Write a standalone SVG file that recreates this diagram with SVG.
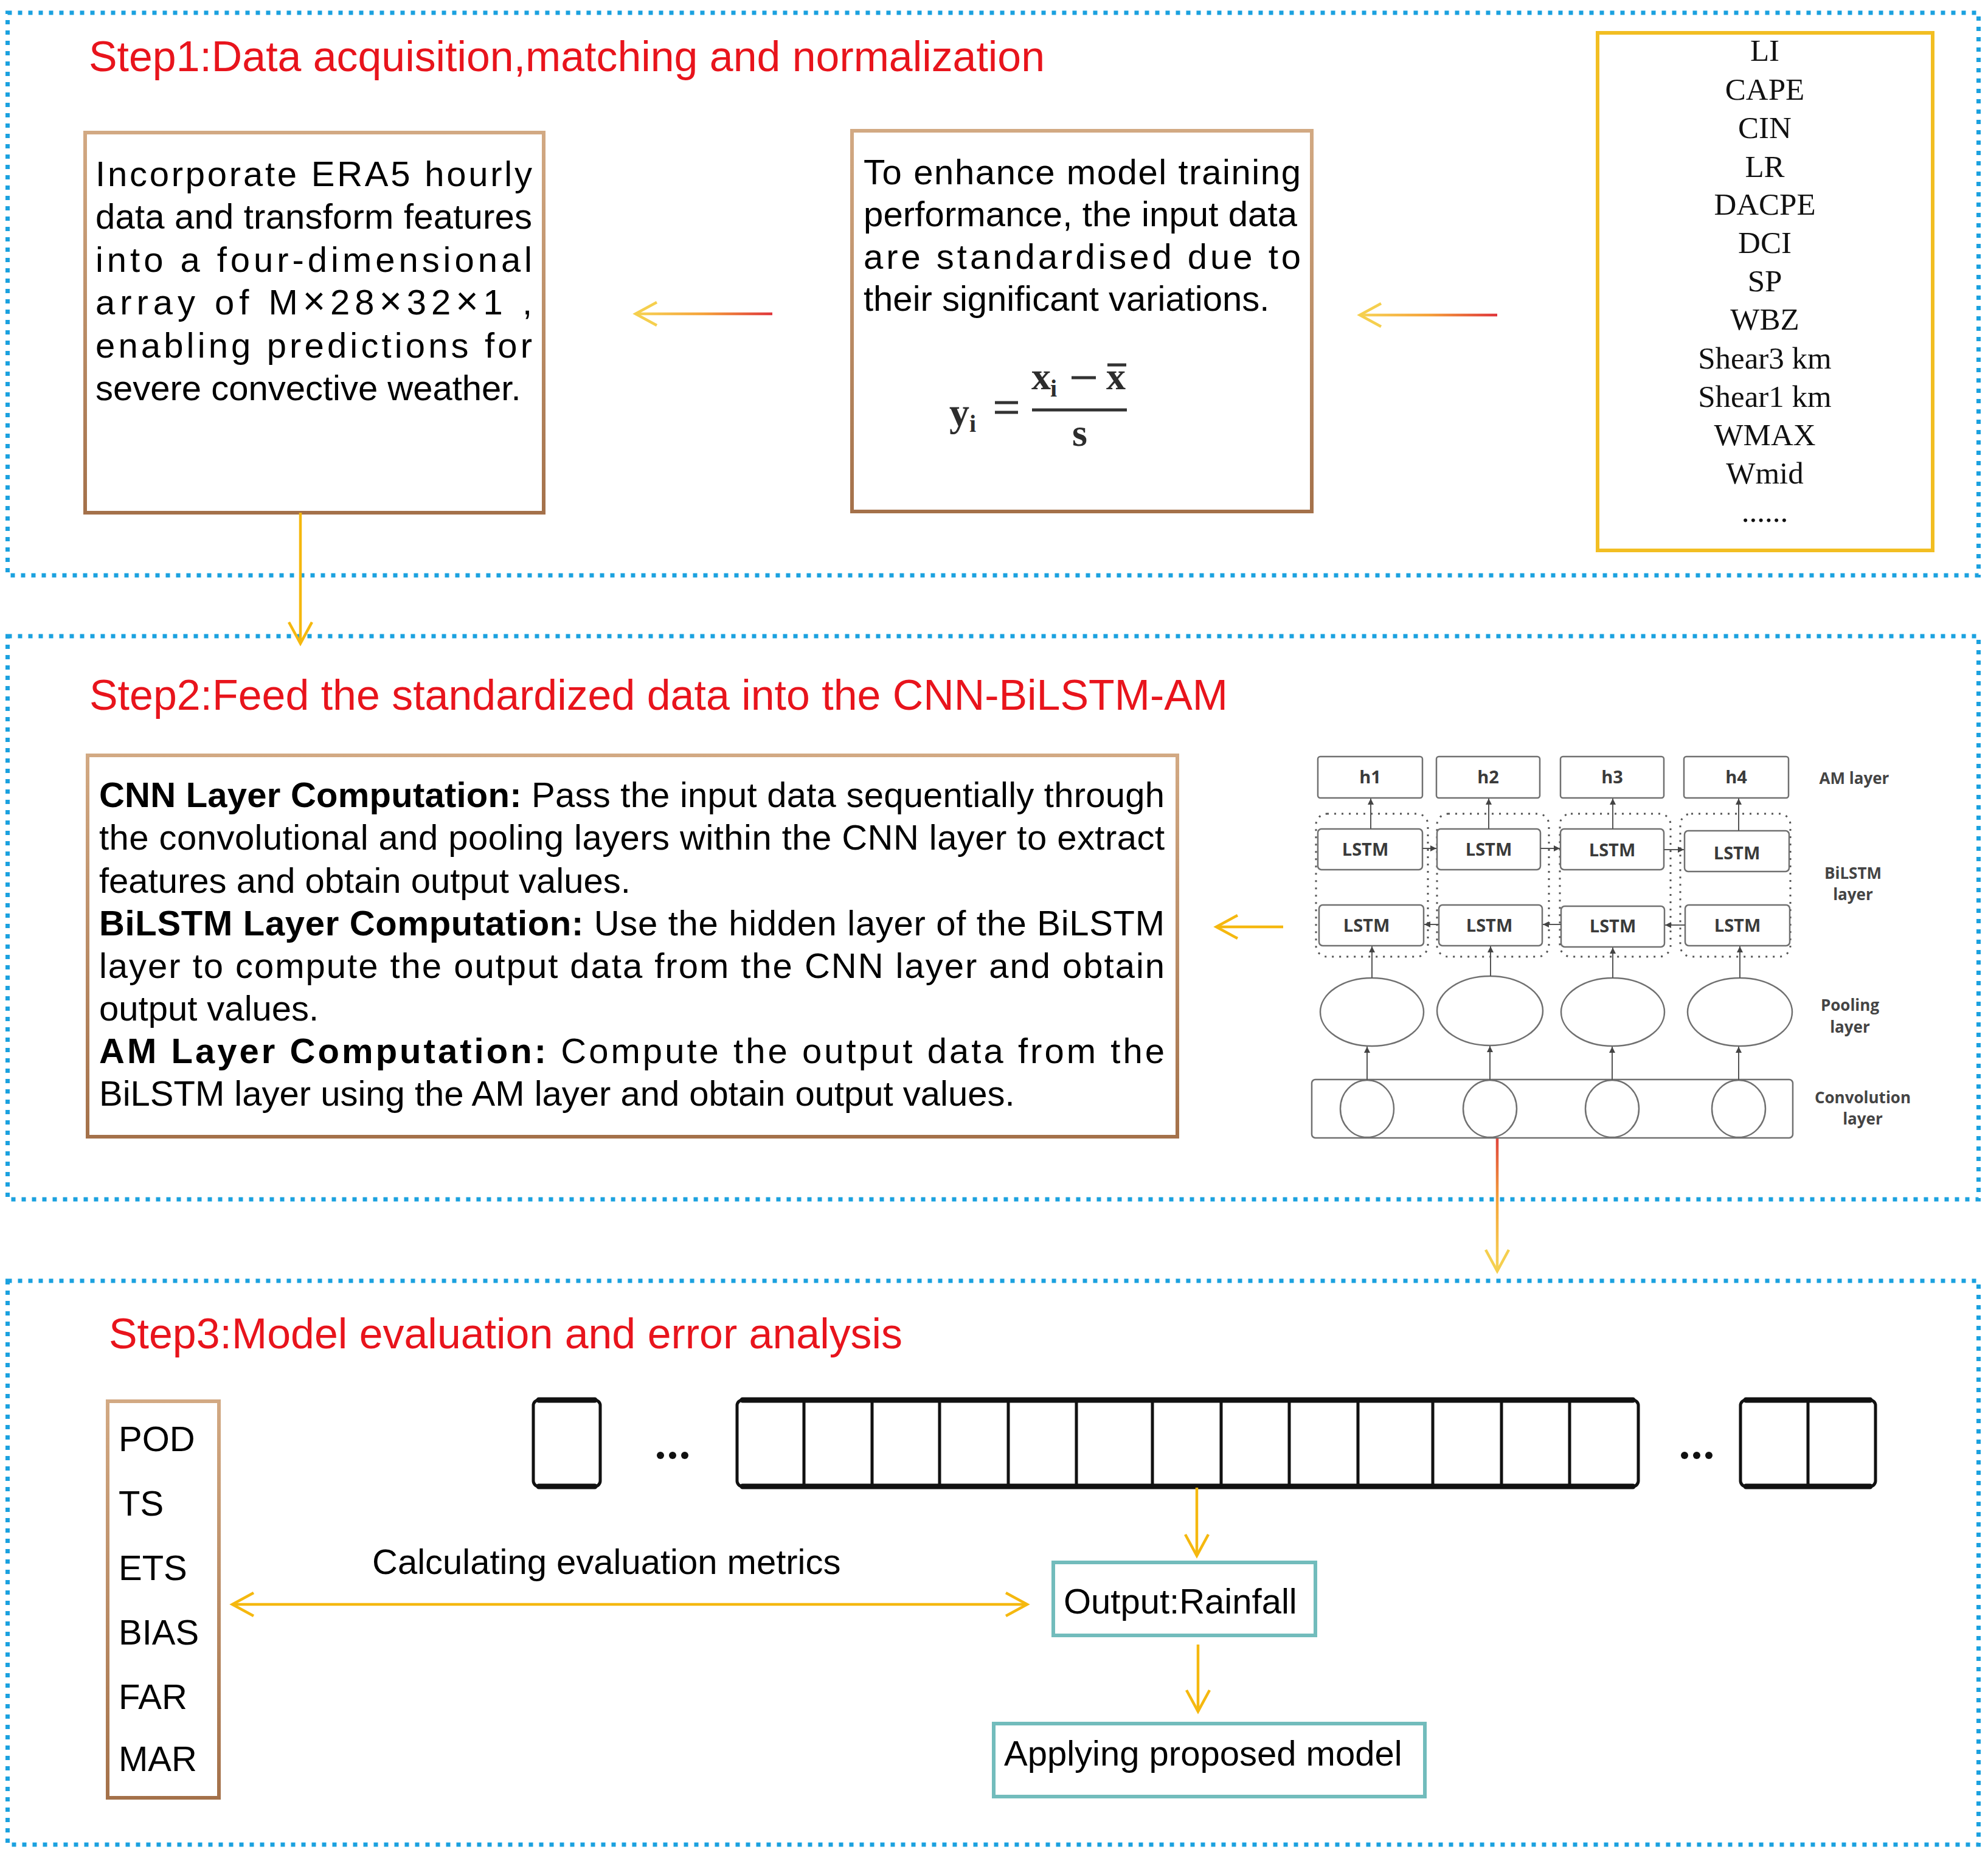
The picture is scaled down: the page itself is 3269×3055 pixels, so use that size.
<svg xmlns="http://www.w3.org/2000/svg" width="3269" height="3055" viewBox="0 0 3269 3055">
<defs>
<style>
.frame{fill:none;stroke:#1BA1DF;stroke-width:7;stroke-dasharray:7 10}
.title{font-family:"Liberation Sans",Arial,sans-serif;font-size:70px;fill:#E8141C}
.body{font-family:"Liberation Sans",Arial,sans-serif;font-size:58px;fill:#000}
.b{font-weight:bold}
.times{font-size:64px}
.brown{fill:#fff;stroke:url(#brownG);stroke-width:6}
.teal{fill:#fff;stroke:#72BCBC;stroke-width:6}
.list{font-family:"Liberation Serif","Times New Roman",serif;font-size:51px;fill:#111;text-anchor:middle}
.math{font-family:"Liberation Serif","Times New Roman",serif;fill:#2d2d2d;font-weight:bold}
.nn{fill:#fff;stroke:#707070;stroke-width:2.5}
.grp{fill:none;stroke:#555;stroke-width:3;stroke-dasharray:3 9}
.nnt{font-family:"Open Sans","DejaVu Sans",sans-serif;font-weight:700;font-size:29px;fill:#3a3a3a;text-anchor:middle}
.nnl{font-family:"Open Sans","DejaVu Sans",sans-serif;font-weight:700;font-size:26px;fill:#444;text-anchor:middle}
.nna{stroke:#555;stroke-width:2;fill:none;marker-end:url(#tri)}
.ya{fill:none;stroke:#F5B80F;stroke-width:4.5;marker-end:url(#headO)}
.ga{fill:none;stroke-width:4.5;marker-end:url(#headY)}
.seq{fill:none;stroke:#111;stroke-width:5}
.seqt{fill:none;stroke:#111;stroke-width:9;stroke-linecap:round}
</style>
<linearGradient id="brownG" x1="0" y1="0" x2="0" y2="1">
<stop offset="0" stop-color="#D2A983"/>
<stop offset="1" stop-color="#A4714A"/>
</linearGradient>
<linearGradient id="g1" gradientUnits="userSpaceOnUse" x1="1270" y1="0" x2="1045" y2="0">
<stop offset="0" stop-color="#E0353C"/>
<stop offset="0.5" stop-color="#F5A23A"/>
<stop offset="1" stop-color="#F7D457"/>
</linearGradient>
<linearGradient id="g2" gradientUnits="userSpaceOnUse" x1="2462" y1="0" x2="2236" y2="0">
<stop offset="0" stop-color="#E0353C"/>
<stop offset="0.5" stop-color="#F5A23A"/>
<stop offset="1" stop-color="#F7D457"/>
</linearGradient>
<linearGradient id="g3" gradientUnits="userSpaceOnUse" x1="0" y1="1872" x2="0" y2="2090">
<stop offset="0" stop-color="#E0453C"/>
<stop offset="0.5" stop-color="#F5A83A"/>
<stop offset="1" stop-color="#F7D457"/>
</linearGradient>
<marker id="headY" markerUnits="userSpaceOnUse" markerWidth="50" markerHeight="50" refX="38" refY="22" orient="auto">
<path d="M3,3 L38,22 L3,41" fill="none" stroke="#F5CF4E" stroke-width="4.5"/>
</marker>
<marker id="headO" markerUnits="userSpaceOnUse" markerWidth="50" markerHeight="50" refX="38" refY="22" orient="auto-start-reverse">
<path d="M3,3 L38,22 L3,41" fill="none" stroke="#F5B80F" stroke-width="4.5"/>
</marker>
<marker id="tri" markerUnits="userSpaceOnUse" markerWidth="14" markerHeight="14" refX="10" refY="5" orient="auto">
<path d="M0,0 L10,5 L0,10 Z" fill="#444"/>
</marker>
</defs>
<rect width="3269" height="3055" fill="#fff"/>

<g id="frames">
<rect id="step1-frame" class="frame" x="12.5" y="21" width="3241" height="925"/>
<rect id="step2-frame" class="frame" x="12.5" y="1046" width="3241" height="926"/>
<rect id="step3-frame" class="frame" x="12.5" y="2106" width="3241" height="927"/>
</g>

<g id="titles">
<text class="title" x="146" y="117" textLength="1572" lengthAdjust="spacingAndGlyphs">Step1:Data acquisition,matching and normalization</text>
<text class="title" x="147" y="1167" textLength="1872" lengthAdjust="spacingAndGlyphs">Step2:Feed the standardized data into the CNN-BiLSTM-AM</text>
<text class="title" x="179" y="2217" textLength="1305" lengthAdjust="spacingAndGlyphs">Step3:Model evaluation and error analysis</text>
</g>

<g id="box-era5">
<rect class="brown" x="140" y="218" width="754" height="625"/>
<text class="body" x="157" y="306" textLength="718" lengthAdjust="spacing">Incorporate ERA5 hourly</text>
<text class="body" x="157" y="376" textLength="718" lengthAdjust="spacing">data and transform features</text>
<text class="body" x="157" y="447" textLength="718" lengthAdjust="spacing">into a four-dimensional</text>
<text class="body" x="157" y="517" textLength="718" lengthAdjust="spacing">array of M<tspan class="times">×</tspan>28<tspan class="times">×</tspan>32<tspan class="times">×</tspan>1 ,</text>
<text class="body" x="157" y="588" textLength="718" lengthAdjust="spacing">enabling predictions for</text>
<text class="body" x="157" y="658">severe convective weather.</text>
</g>

<g id="box-standardise">
<rect class="brown" x="1401" y="215" width="756" height="626"/>
<text class="body" x="1420" y="303" textLength="719" lengthAdjust="spacing">To enhance model training</text>
<text class="body" x="1420" y="372" textLength="713" lengthAdjust="spacing">performance, the input data</text>
<text class="body" x="1420" y="442" textLength="719" lengthAdjust="spacing">are standardised due to</text>
<text class="body" x="1420" y="511">their significant variations.</text>
<g id="formula">
<text class="math" x="1561" y="700" font-size="66">y</text>
<text class="math" x="1594" y="710" font-size="40">i</text>
<line x1="1636" y1="662" x2="1674" y2="662" stroke="#333" stroke-width="5"/>
<line x1="1636" y1="678" x2="1674" y2="678" stroke="#333" stroke-width="5"/>
<line x1="1697" y1="674" x2="1853" y2="674" stroke="#333" stroke-width="5"/>
<text class="math" x="1696" y="640" font-size="64">x</text>
<text class="math" x="1727" y="652" font-size="40">i</text>
<line x1="1762" y1="621" x2="1802" y2="621" stroke="#333" stroke-width="5"/>
<text class="math" x="1819" y="640" font-size="64">x</text>
<line x1="1821" y1="600" x2="1852" y2="600" stroke="#333" stroke-width="5"/>
<text class="math" x="1763" y="733" font-size="64">s</text>
</g>
</g>

<g id="box-variables">
<rect x="2627" y="54" width="551" height="851" fill="#fff" stroke="#F2BE22" stroke-width="6"/>
<text class="list" x="2902" y="100">LI</text>
<text class="list" x="2902" y="164">CAPE</text>
<text class="list" x="2902" y="227">CIN</text>
<text class="list" x="2902" y="291">LR</text>
<text class="list" x="2902" y="353">DACPE</text>
<text class="list" x="2902" y="416">DCI</text>
<text class="list" x="2902" y="479">SP</text>
<text class="list" x="2902" y="542">WBZ</text>
<text class="list" x="2902" y="606">Shear3 km</text>
<text class="list" x="2902" y="669">Shear1 km</text>
<text class="list" x="2902" y="732">WMAX</text>
<text class="list" x="2902" y="795">Wmid</text>
<text class="list" x="2902" y="858">......</text>
</g>

<g id="box-computation">
<rect class="brown" x="144" y="1242" width="1792" height="627"/>
<text class="body" x="163" y="1327" textLength="1752" lengthAdjust="spacing"><tspan class="b">CNN Layer Computation:</tspan> Pass the input data sequentially through</text>
<text class="body" x="163" y="1397" textLength="1752" lengthAdjust="spacing">the convolutional and pooling layers within the CNN layer to extract</text>
<text class="body" x="163" y="1468">features and obtain output values.</text>
<text class="body" x="163" y="1538" textLength="1752" lengthAdjust="spacing"><tspan class="b">BiLSTM Layer Computation:</tspan> Use the hidden layer of the BiLSTM</text>
<text class="body" x="163" y="1608" textLength="1752" lengthAdjust="spacing">layer to compute the output data from the CNN layer and obtain</text>
<text class="body" x="163" y="1678">output values.</text>
<text class="body" x="163" y="1748" textLength="1752" lengthAdjust="spacing"><tspan class="b">AM Layer Computation:</tspan> Compute the output data from the</text>
<text class="body" x="163" y="1818">BiLSTM layer using the AM layer and obtain output values.</text>
</g>

<g id="cnn-bilstm-am-diagram">
<g id="am-layer">
<rect class="nn" x="2167" y="1244" width="172" height="68" rx="4"/>
<rect class="nn" x="2362" y="1244" width="170" height="68" rx="4"/>
<rect class="nn" x="2566" y="1244" width="170" height="68" rx="4"/>
<rect class="nn" x="2769" y="1244" width="172" height="68" rx="4"/>
<text class="nnt" x="2253" y="1288">h1</text>
<text class="nnt" x="2447" y="1288">h2</text>
<text class="nnt" x="2651" y="1288">h3</text>
<text class="nnt" x="2855" y="1288">h4</text>
</g>
<g id="bilstm-layer">
<rect class="grp" x="2164" y="1338" width="184" height="235" rx="18"/>
<rect class="grp" x="2363" y="1338" width="184" height="235" rx="18"/>
<rect class="grp" x="2565" y="1338" width="182" height="235" rx="18"/>
<rect class="grp" x="2763" y="1338" width="181" height="235" rx="18"/>
<rect class="nn" x="2167" y="1363" width="172" height="67" rx="6"/>
<rect class="nn" x="2363" y="1363" width="170" height="67" rx="6"/>
<rect class="nn" x="2566" y="1363" width="170" height="67" rx="6"/>
<rect class="nn" x="2770" y="1366" width="172" height="67" rx="6"/>
<rect class="nn" x="2169" y="1488" width="172" height="67" rx="6"/>
<rect class="nn" x="2366" y="1488" width="170" height="67" rx="6"/>
<rect class="nn" x="2567" y="1490" width="170" height="67" rx="6"/>
<rect class="nn" x="2771" y="1488" width="172" height="67" rx="6"/>
<text class="nnt" x="2245" y="1407">LSTM</text>
<text class="nnt" x="2448" y="1407">LSTM</text>
<text class="nnt" x="2651" y="1408">LSTM</text>
<text class="nnt" x="2856" y="1413">LSTM</text>
<text class="nnt" x="2247" y="1532">LSTM</text>
<text class="nnt" x="2449" y="1532">LSTM</text>
<text class="nnt" x="2652" y="1533">LSTM</text>
<text class="nnt" x="2857" y="1532">LSTM</text>
</g>
<g id="pooling-layer">
<ellipse class="nn" cx="2256" cy="1664" rx="85" ry="56"/>
<ellipse class="nn" cx="2450" cy="1662" rx="87" ry="57"/>
<ellipse class="nn" cx="2652" cy="1664" rx="85" ry="56"/>
<ellipse class="nn" cx="2861" cy="1664" rx="86" ry="56"/>
</g>
<g id="convolution-layer">
<rect class="nn" x="2157" y="1775" width="791" height="96" rx="6"/>
<ellipse class="nn" cx="2248" cy="1823" rx="44" ry="47"/>
<ellipse class="nn" cx="2450" cy="1823" rx="44" ry="47"/>
<ellipse class="nn" cx="2651" cy="1823" rx="44" ry="47"/>
<ellipse class="nn" cx="2859" cy="1823" rx="44" ry="47"/>
</g>
<g id="layer-labels">
<text class="nnl" x="3049" y="1289">AM layer</text>
<text class="nnl" x="3047" y="1445">BiLSTM</text>
<text class="nnl" x="3047" y="1480">layer</text>
<text class="nnl" x="3042" y="1662">Pooling</text>
<text class="nnl" x="3042" y="1698">layer</text>
<text class="nnl" x="3063" y="1814">Convolution</text>
<text class="nnl" x="3063" y="1849">layer</text>
</g>
<g id="nn-connectors">
<line class="nna" x1="2254" y1="1363" x2="2254" y2="1313"/>
<line class="nna" x1="2448" y1="1363" x2="2448" y2="1313"/>
<line class="nna" x1="2652" y1="1363" x2="2652" y2="1313"/>
<line class="nna" x1="2859" y1="1366" x2="2859" y2="1313"/>
<line class="nna" x1="2339" y1="1395" x2="2362" y2="1395"/>
<line class="nna" x1="2533" y1="1395" x2="2565" y2="1395"/>
<line class="nna" x1="2736" y1="1397" x2="2769" y2="1397"/>
<line class="nna" x1="2366" y1="1520" x2="2342" y2="1520"/>
<line class="nna" x1="2567" y1="1520" x2="2537" y2="1520"/>
<line class="nna" x1="2771" y1="1521" x2="2738" y2="1521"/>
<line class="nna" x1="2256" y1="1608" x2="2256" y2="1556"/>
<line class="nna" x1="2451" y1="1605" x2="2451" y2="1556"/>
<line class="nna" x1="2652" y1="1608" x2="2652" y2="1558"/>
<line class="nna" x1="2861" y1="1608" x2="2861" y2="1556"/>
<line class="nna" x1="2248" y1="1776" x2="2248" y2="1721"/>
<line class="nna" x1="2450" y1="1776" x2="2450" y2="1720"/>
<line class="nna" x1="2651" y1="1776" x2="2651" y2="1721"/>
<line class="nna" x1="2859" y1="1776" x2="2859" y2="1721"/>
</g>
</g>

<g id="metrics">
<rect class="brown" x="177" y="2304" width="183" height="652"/>
<text class="body" x="195" y="2386">POD</text>
<text class="body" x="195" y="2492">TS</text>
<text class="body" x="195" y="2598">ETS</text>
<text class="body" x="195" y="2704">BIAS</text>
<text class="body" x="195" y="2810">FAR</text>
<text class="body" x="195" y="2912">MAR</text>
</g>

<g id="sequence">
<rect class="seq" x="877" y="2302" width="110" height="142" rx="9"/>
<path class="seqt" d="M886,2302 H978 M886,2444 H978"/>
<circle cx="1086" cy="2393" r="6" fill="#111"/>
<circle cx="1106" cy="2393" r="6" fill="#111"/>
<circle cx="1126" cy="2393" r="6" fill="#111"/>
<rect class="seq" x="1212" y="2302" width="1482" height="142" rx="9"/>
<path class="seqt" d="M1221,2302 H2685 M1221,2444 H2685"/>
<path class="seq" d="M1322,2302 V2444 M1434,2302 V2444 M1545,2302 V2444 M1658,2302 V2444 M1770,2302 V2444 M1895,2302 V2444 M2008,2302 V2444 M2120,2302 V2444 M2233,2302 V2444 M2356,2302 V2444 M2469,2302 V2444 M2581,2302 V2444"/>
<circle cx="2770" cy="2393" r="6" fill="#111"/>
<circle cx="2790" cy="2393" r="6" fill="#111"/>
<circle cx="2810" cy="2393" r="6" fill="#111"/>
<rect class="seq" x="2862" y="2302" width="222" height="142" rx="9"/>
<path class="seqt" d="M2871,2302 H3075 M2871,2444 H3075"/>
<path class="seq" d="M2973,2302 V2444"/>
</g>

<g id="output-rainfall">
<rect class="teal" x="1732" y="2569" width="431" height="120"/>
<text class="body" x="1749" y="2653">Output:Rainfall</text>
</g>

<g id="applying-model">
<rect class="teal" x="1634" y="2834" width="709" height="120"/>
<text class="body" x="1651" y="2903">Applying proposed model</text>
</g>

<text class="body" x="612" y="2588">Calculating evaluation metrics</text>

<g id="connectors">
<line class="ga" x1="1270" y1="516" x2="1045" y2="516" stroke="url(#g1)"/>
<line class="ga" x1="2462" y1="518" x2="2236" y2="518" stroke="url(#g2)"/>
<line class="ya" x1="494" y1="843" x2="494" y2="1058" stroke="#F3C21E"/>
<line class="ya" x1="2110" y1="1524" x2="2000" y2="1524"/>
<line class="ga" x1="2462" y1="1872" x2="2462" y2="2090" stroke="url(#g3)"/>
<line class="ya" x1="382" y1="2638" x2="1689" y2="2638" style="marker-start:url(#headO)"/>
<line class="ya" x1="1968" y1="2446" x2="1968" y2="2558"/>
<line class="ya" x1="1970" y1="2704" x2="1970" y2="2814"/>
</g>
</svg>
